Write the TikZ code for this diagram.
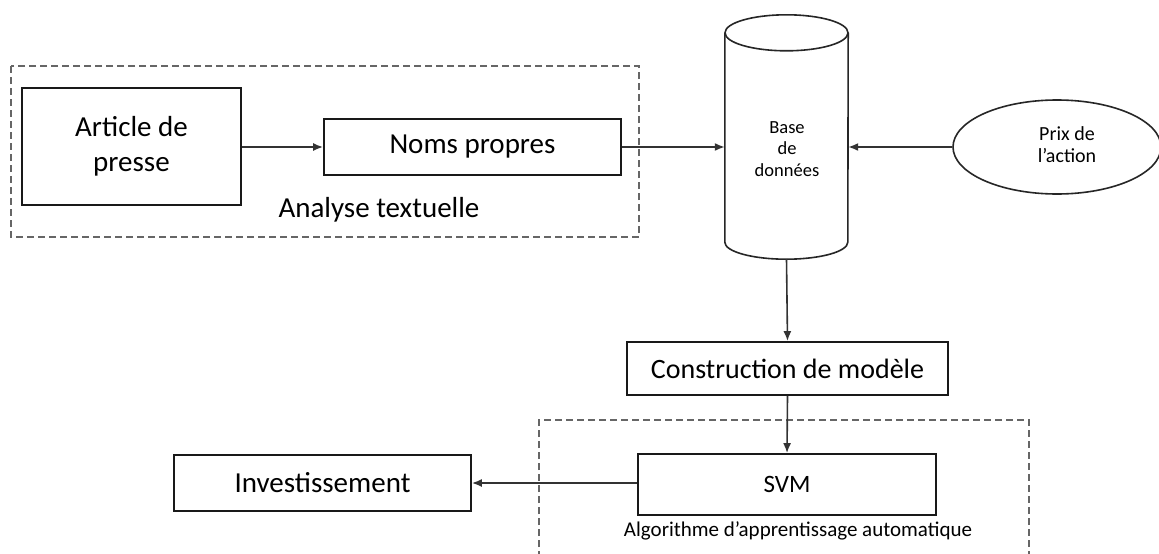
\documentclass[tikz,border=0pt]{standalone}
\usepackage{fontspec}
\setmainfont{Carlito}
\usetikzlibrary{shapes.geometric,arrows.meta}
\begin{document}
\begin{tikzpicture}[x=1pt,y=-1pt,
  box/.style={draw=black!90, line width=1.8pt, rectangle, inner sep=0pt, align=center, font=\fontsize{29}{35}\selectfont},
  conn/.style={draw=black!80, line width=1.6pt, -{Latex[length=10pt,width=8pt]}},
  group/.style={draw=black!60, line width=1.4pt, dash pattern=on 7pt off 4pt},
  small/.style={font=\fontsize{18.5}{21.5}\selectfont, align=center, inner sep=0pt}]
\useasboundingbox (0,0) rectangle (1159,554);
\fill[white] (0,0) rectangle (1159,554);

% group frames
\draw[group] (11,66) rectangle (639,237);
\draw[group] (539,580) -- (539,420) -- (1029,420) -- (1029,580);

% nodes
\node[box, minimum width=219pt, minimum height=117pt] (art) at (131.5,146.5) {Article de\\presse};
\node[box, minimum width=297pt, minimum height=56pt] (noms) at (472.5,147) {Noms propres};
\node[anchor=base, inner sep=0pt, font=\fontsize{29}{35}\selectfont] (ana) at (379,217) {Analyse textuelle};

% database cylinder
\node[rectangle, inner sep=0pt, minimum width=123pt, minimum height=209pt] (db) at (786.5,137.5) {};
\draw[black!85, line width=1.6pt, fill=white]
  (db.north west) -- (db.south west) arc[start angle=180, end angle=360, x radius=61.5pt, y radius=17pt]
  -- (db.north east);
\draw[black!85, line width=1.6pt, fill=white] (db.north) ellipse[x radius=61.5pt, y radius=18pt];
\node[small] (dbt) at (787,149) {Base\\de\\données};
\coordinate (dbbot) at (786.5,259);

\node[ellipse, draw=black!85, line width=1.6pt, inner sep=0pt, minimum width=208pt, minimum height=94pt] (prix) at (1057,147) {};
\node[small, font=\fontsize{20}{22}\selectfont] (prixt) at (1067,145) {Prix de\\l’action};

\node[box, minimum width=321pt, minimum height=53pt, font=\fontsize{28}{34}\selectfont] (cons) at (787.5,368.5) {Construction de modèle};
\node[box, minimum width=298pt, minimum height=61pt, font=\fontsize{25}{30}\selectfont] (svm) at (787,484.5) {SVM};
\node[box, minimum width=297pt, minimum height=56pt] (inv) at (322.5,483) {Investissement};
\node[anchor=base, inner sep=0pt, font=\fontsize{21}{25}\selectfont] (algo) at (798,536) {Algorithme d’apprentissage automatique};

% connectors
\draw[conn] (art.east |- noms.west) -- (noms.west);
\draw[conn] (noms.east) -- (noms.east -| db.west);
\draw[conn] (prix.west) -- (prix.west -| db.east);
\draw[conn] (dbbot) -- (cons.north);
\draw[conn] (cons.south) -- (svm.north);
\draw[conn] (svm.west |- inv.east) -- (inv.east);
\end{tikzpicture}
\end{document}
